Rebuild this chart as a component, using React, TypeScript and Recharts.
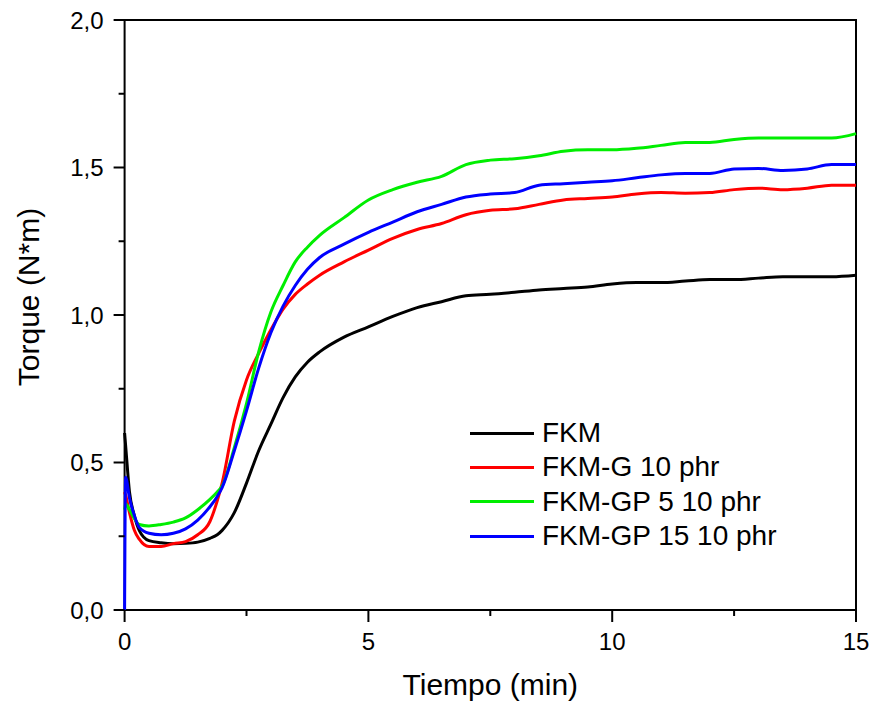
import React from 'react';
import { LineChart, Line, XAxis, YAxis, Legend, ReferenceArea } from 'recharts';

// time (min) and torque (N*m)
const TIME = [
  0, 0.02, 0.1, 0.2, 0.3, 0.5, 0.75, 1, 1.25, 1.5, 1.75, 1.9, 2, 2.25, 2.5, 2.75, 3, 3.25, 3.5, 3.75,
  4, 4.5, 5, 5.5, 6, 6.5, 7, 7.5, 8, 8.5, 9, 9.5, 10, 10.5, 11, 11.5, 12, 12.5, 13, 13.5, 14, 14.5, 15,
];
const FKM = [
  0.6, 0.56, 0.4, 0.32, 0.27, 0.235, 0.228, 0.225, 0.226, 0.23, 0.243, 0.255, 0.27, 0.33, 0.43, 0.54,
  0.63, 0.72, 0.79, 0.84, 0.875, 0.925, 0.96, 0.995, 1.025, 1.045, 1.065, 1.07, 1.077, 1.085, 1.09,
  1.095, 1.105, 1.11, 1.11, 1.115, 1.12, 1.12, 1.125, 1.13, 1.13, 1.13, 1.135,
];
const FKM_G = [
  0.4, 0.39, 0.33, 0.27, 0.24, 0.215, 0.215, 0.225, 0.232, 0.255, 0.3, 0.37, 0.43, 0.64, 0.78, 0.87,
  0.95, 1.02, 1.07, 1.105, 1.135, 1.18, 1.22, 1.26, 1.29, 1.31, 1.34, 1.355, 1.36, 1.375, 1.39, 1.395,
  1.4, 1.41, 1.415, 1.413, 1.415, 1.425, 1.43, 1.425, 1.43, 1.44, 1.44,
];
const FKM_GP5 = [
  0.34, 0.36, 0.34, 0.31, 0.29, 0.285, 0.29, 0.298, 0.312, 0.34, 0.375, 0.4, 0.42, 0.55, 0.7, 0.875,
  1.01, 1.1, 1.18, 1.23, 1.27, 1.33, 1.39, 1.425, 1.45, 1.47, 1.51, 1.525, 1.53, 1.54, 1.555, 1.56,
  1.56, 1.565, 1.575, 1.585, 1.585, 1.595, 1.6, 1.6, 1.6, 1.6, 1.615,
];
const FKM_GP15 = [
  0, 0.45, 0.38, 0.32, 0.28, 0.26, 0.255, 0.26, 0.275, 0.305, 0.35, 0.385, 0.415, 0.54, 0.675, 0.82,
  0.94, 1.03, 1.1, 1.155, 1.195, 1.24, 1.28, 1.315, 1.35, 1.375, 1.4, 1.41, 1.415, 1.44, 1.445, 1.45,
  1.455, 1.465, 1.475, 1.48, 1.48, 1.495, 1.497, 1.49, 1.495, 1.51, 1.51,
];

const X_TICKS = [0, 2.5, 5, 7.5, 10, 12.5, 15];
const Y_TICKS = [0, 0.25, 0.5, 0.75, 1, 1.25, 1.5, 1.75, 2];

const SERIES = [
  { key: 'fkm', name: 'FKM', color: '#000000', values: FKM },
  { key: 'fkmG', name: 'FKM-G 10 phr', color: '#ff0000', values: FKM_G },
  { key: 'fkmGP5', name: 'FKM-GP 5 10 phr', color: '#00ee00', values: FKM_GP5 },
  { key: 'fkmGP15', name: 'FKM-GP 15 10 phr', color: '#0000ff', values: FKM_GP15 },
];

const data = TIME.map((t, i) => {
  const row: Record<string, number> = { t };
  SERIES.forEach((s) => {
    row[s.key] = s.values[i];
  });
  return row;
});

const FONT = '"Liberation Sans", Arial, sans-serif';

const fmt = (v: number, digits: number) => v.toFixed(digits).replace('.', ',');

const XTick = (props: any) => {
  const { x, y, payload } = props;
  const major = payload.value % 5 === 0;
  return (
    <g>
      <line x1={x} y1={y} x2={x} y2={y + (major ? 12 : 6)} stroke="#000" strokeWidth={2} />
      {major && (
        <text x={x} y={y + 40} textAnchor="middle" fontSize={24} fontFamily={FONT} fill="#000">
          {fmt(payload.value, 0)}
        </text>
      )}
    </g>
  );
};

const YTick = (props: any) => {
  const { x, y, payload } = props;
  const major = Math.abs((payload.value * 2) % 1) < 1e-6;
  return (
    <g>
      <line x1={x} y1={y} x2={x - (major ? 11 : 6)} y2={y} stroke="#000" strokeWidth={2} />
      {major && (
        <text x={x - 21} y={y + 8.5} textAnchor="end" fontSize={24} fontFamily={FONT} fill="#000">
          {fmt(payload.value, 1)}
        </text>
      )}
    </g>
  );
};

// keep the series order instead of the legend's alphabetical sort
const LegendBox = () => (
  <div style={{ fontFamily: FONT }}>
    {SERIES.map((s) => (
      <div key={s.key} style={{ display: 'flex', alignItems: 'center', height: 34.3 }}>
        <span style={{ width: 64, height: 3, background: s.color, marginRight: 8 }} />
        <span style={{ fontSize: 28, color: '#000', lineHeight: 1 }}>{s.name}</span>
      </div>
    ))}
  </div>
);

const YTitle = (props: any) => {
  const { viewBox } = props;
  const cy = viewBox.y + viewBox.height / 2 - 18;
  return (
    <text
      x={28}
      y={cy}
      transform={`rotate(-90, 28, ${cy})`}
      textAnchor="middle"
      dominantBaseline="central"
      fontSize={30}
      fontFamily={FONT}
      fill="#000"
    >
      Torque (N*m)
    </text>
  );
};

export default function App() {
  return (
    <div style={{ position: 'absolute', left: 0, top: 0, width: 873, height: 702, background: '#fff' }}>
      <LineChart width={873} height={702} data={data} margin={{ top: 20, right: 17, bottom: 0, left: 0 }}>
        <XAxis
          dataKey="t"
          type="number"
          domain={[0, 15]}
          ticks={X_TICKS}
          interval={0}
          axisLine={false}
          tickLine={false}
          tickSize={0}
          tickMargin={0}
          tick={<XTick />}
          height={92}
          label={{ value: 'Tiempo (min)', position: 'insideBottom', offset: 7, fontSize: 30, fill: '#000', fontFamily: FONT }}
        />
        <YAxis
          type="number"
          domain={[0, 2]}
          ticks={Y_TICKS}
          interval={0}
          axisLine={false}
          tickLine={false}
          tickSize={0}
          tickMargin={0}
          tick={<YTick />}
          width={124.6}
          label={<YTitle />}
        />
        <ReferenceArea x1={0} x2={15} y1={0} y2={2} fill="none" stroke="#000" strokeWidth={2} />
        {SERIES.map((s) => (
          <Line
            key={s.key}
            dataKey={s.key}
            name={s.name}
            type="monotone"
            stroke={s.color}
            strokeWidth={3}
            dot={false}
            isAnimationActive={false}
          />
        ))}
        <Legend
          layout="horizontal"
          verticalAlign="middle"
          align="center"
          content={<LegendBox />}
          wrapperStyle={{ left: 470, top: 416, width: 340 }}
        />
      </LineChart>
    </div>
  );
}
